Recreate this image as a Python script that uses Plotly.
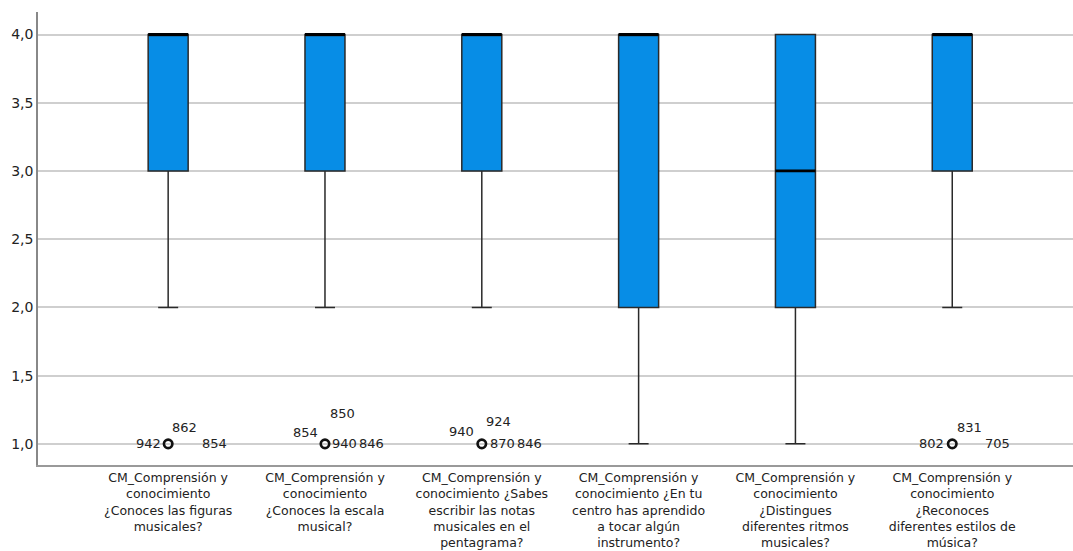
import plotly.graph_objects as go

# Category labels (one per item)
categories = [
    "CM_Comprensión y<br>conocimiento<br>¿Conoces las figuras<br>musicales?",
    "CM_Comprensión y<br>conocimiento<br>¿Conoces la escala<br>musical?",
    "CM_Comprensión y<br>conocimiento ¿Sabes<br>escribir las notas<br>musicales en el<br>pentagrama?",
    "CM_Comprensión y<br>conocimiento ¿En tu<br>centro has aprendido<br>a tocar algún<br>instrumento?",
    "CM_Comprensión y<br>conocimiento<br>¿Distingues<br>diferentes ritmos<br>musicales?",
    "CM_Comprensión y<br>conocimiento<br>¿Reconoces<br>diferentes estilos de<br>música?",
]

# Box statistics per item
q1 = [3, 3, 3, 2, 2, 3]
median = [4, 4, 4, 4, 3, 4]
q3 = [4, 4, 4, 4, 4, 4]
lower_fence = [2, 2, 2, 1, 1, 2]
upper_fence = [4, 4, 4, 4, 4, 4]

# Outliers: (item index, value)
outlier_items = [0, 1, 2, 5]
outlier_values = [1, 1, 1, 1]

# Case labels attached to outliers: (item index, value, case id)
case_items = [0, 0, 0, 1, 1, 1, 1, 2, 2, 2, 2, 5, 5, 5]
case_values = [1] * 14
case_ids = ["942", "862", "854", "854", "850", "940", "846",
            "940", "924", "870", "846", "802", "831", "705"]
# Label placement around the marker (pixels): xshift, yshift, anchor
case_offsets = [
    (-5, 0, "right"), (2, 16, "left"), (32, 0, "left"),
    (-5, 11, "right"), (3, 30, "left"), (5, 0, "left"), (32, 0, "left"),
    (-6, 12, "right"), (2, 22, "left"), (6, 0, "left"), (33, 0, "left"),
    (-6, 0, "right"), (3, 16, "left"), (31, 0, "left"),
]

BOX_WIDTH = 0.255
x_pos = list(range(len(categories)))
font_family = "DejaVu Sans"
text_color = "#222222"

fig = go.Figure()

fig.add_trace(go.Box(
    x=x_pos,
    q1=q1,
    median=median,
    q3=q3,
    lowerfence=lower_fence,
    upperfence=upper_fence,
    width=BOX_WIDTH,
    whiskerwidth=0.5,
    fillcolor="#078de6",
    line=dict(color="#2a2a2a", width=1.5),
    boxpoints=False,
    showlegend=False,
    hoverinfo="skip",
))

# Heavier median bars drawn over each box
med_x, med_y = [], []
for xi, m in zip(x_pos, median):
    med_x += [xi - BOX_WIDTH / 2, xi + BOX_WIDTH / 2, None]
    med_y += [m, m, None]
fig.add_trace(go.Scatter(
    x=med_x, y=med_y, mode="lines",
    line=dict(color="#000000", width=2.8),
    showlegend=False, hoverinfo="skip",
))

fig.add_trace(go.Scatter(
    x=outlier_items,
    y=outlier_values,
    mode="markers",
    marker=dict(symbol="circle-open", size=8.5, color="#111111",
                line=dict(width=2.6, color="#111111")),
    showlegend=False,
    hoverinfo="skip",
))

annotations = []
for item, val, cid, (dx, dy, anchor) in zip(case_items, case_values, case_ids, case_offsets):
    annotations.append(dict(
        x=item, y=val, xref="x", yref="y", text=cid,
        showarrow=False, xanchor=anchor, yanchor="middle",
        xshift=dx, yshift=dy,
        font=dict(family=font_family, size=13, color=text_color),
    ))

fig.update_layout(
    width=1073,
    height=551,
    margin=dict(l=38, r=0, t=12, b=86),
    paper_bgcolor="white",
    plot_bgcolor="white",
    separators=",.",
    annotations=annotations,
    font=dict(family=font_family, size=13, color=text_color),
)

fig.update_xaxes(
    range=[-0.83, 5.77],
    automargin=False,
    tickmode="array",
    tickvals=x_pos,
    ticktext=categories,
    showgrid=False,
    zeroline=False,
    showline=True,
    linecolor="#999999",
    linewidth=2,
    ticks="",
    tickangle=0,
    ticklabelstandoff=0,
    tickfont=dict(family=font_family, size=12.5, color=text_color),
)

fig.update_yaxes(
    range=[0.845, 4.165],
    automargin=False,
    tickvals=[1.0, 1.5, 2.0, 2.5, 3.0, 3.5, 4.0],
    tickformat=".1f",
    showgrid=True,
    gridcolor="#cfcfcf",
    gridwidth=1.5,
    zeroline=False,
    showline=True,
    linecolor="#888888",
    linewidth=1.5,
    ticks="",
    tickfont=dict(family=font_family, size=14, color=text_color),
)

fig.write_html("out.html")
